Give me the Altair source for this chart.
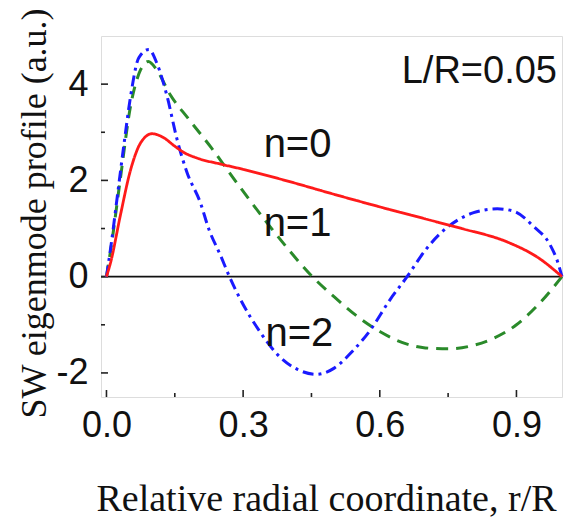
import altair as alt
import pandas as pd

# Spin-wave eigenmode profiles across the radius, L/R = 0.05
r_n0 = [0, 0.01, 0.03, 0.053, 0.075, 0.10, 0.125, 0.15, 0.17, 0.20, 0.25, 0.30,
        0.40, 0.50, 0.60, 0.70, 0.78, 0.88, 0.95, 1.0]
amp_n0 = [0, 0.33, 1.25, 2.22, 2.78, 2.97, 2.89, 2.71, 2.58, 2.46, 2.34, 2.23,
          1.98, 1.71, 1.45, 1.20, 1.00, 0.72, 0.38, 0]

r_n1 = [0, 0.01, 0.03, 0.053, 0.075, 0.092, 0.11, 0.14, 0.18, 0.23, 0.29, 0.35,
        0.40, 0.45, 0.50, 0.55, 0.60, 0.65, 0.70, 0.75, 0.80, 0.85, 0.90, 0.95, 1.0]
amp_n1 = [0, 0.60, 2.00, 3.55, 4.30, 4.47, 4.30, 3.78, 3.28, 2.68, 1.90, 1.15,
          0.56, 0.02, -0.42, -0.82, -1.14, -1.37, -1.48, -1.50, -1.44, -1.28, -1.00, -0.56, 0]

r_n2 = [0, 0.01, 0.024, 0.038, 0.053, 0.071, 0.093, 0.11, 0.133, 0.155, 0.177, 0.206,
        0.225, 0.25, 0.27, 0.294, 0.338, 0.382, 0.42, 0.46, 0.50, 0.54, 0.58, 0.623,
        0.66, 0.70, 0.733, 0.77, 0.806, 0.858, 0.894, 0.937, 0.975, 0.99, 1.0]
amp_n2 = [0, 0.65, 1.68, 2.72, 3.75, 4.55, 4.72, 4.45, 3.75, 2.85, 2.16, 1.54,
          0.98, 0.45, 0.0, -0.47, -1.16, -1.68, -1.93, -2.03, -1.90, -1.55, -1.10, -0.47,
          0.0, 0.55, 0.90, 1.17, 1.33, 1.41, 1.36, 1.05, 0.64, 0.32, 0]

# Axis ticks
x_major = [0.0, 0.3, 0.6, 0.9]
x_minor = [0.15, 0.45, 0.75]
y_major = [-2, 0, 2, 4]
y_minor = [-1, 1, 3]
zero_level = [0]

# Curve labels
label_text = ["n=0", "n=1", "n=2"]
label_r = [0.345, 0.345, 0.349]
label_amp = [2.49, 0.84, -1.44]
note_text = ["L/R=0.05"]
note_r = [0.989]
note_amp = [4.03]

W, H = 461, 361
xs = alt.Scale(domain=[-0.012, 1.0], nice=False, zero=False)
ys = alt.Scale(domain=[-2.5, 5.0], nice=False, zero=False)

SANS = "Liberation Sans"
SERIF = "Liberation Serif"

# Shared axes: labels and titles only, ticks are drawn as inward rules
x_axis = alt.Axis(
    values=x_major, format=".1f", ticks=False, domain=False, grid=False,
    labelFont=SANS, labelFontSize=36, labelColor="#111", labelPadding=11,
    labelFlush=False, labelOverlap=False,
    title="Relative radial coordinate, r/R", titleFont=SERIF, titleFontSize=38,
    titleFontWeight="normal", titleColor="#111", titleBaseline="alphabetic",
    titleX=225, titleY=113, titleAnchor="middle", titleAlign="center")
y_axis = alt.Axis(
    values=y_major, ticks=False, domain=False, grid=False,
    labelExpr="datum.value < 0 ? '-' + abs(datum.value) : '' + datum.value",
    labelFont=SANS, labelFontSize=36, labelColor="#111", labelPadding=13,
    labelFlush=False, labelOverlap=False,
    title="SW eigenmode profile (a.u.)", titleFont=SERIF, titleFontSize=36,
    titleFontWeight="normal", titleColor="#111", titleBaseline="alphabetic",
    titleAngle=270, titleX=-56, titleY=177, titleAnchor="middle", titleAlign="center")


def X(field="r"):
    return alt.X(f"{field}:Q", scale=xs, axis=x_axis)


def Y(field="a"):
    return alt.Y(f"{field}:Q", scale=ys, axis=y_axis)


def curve(r, a, color, dash, width):
    df = pd.DataFrame({"r": r, "a": a})
    return alt.Chart(df).mark_line(
        color=color, strokeWidth=width, strokeDash=dash, interpolate="monotone"
    ).encode(x=X(), y=Y())


zero_rule = alt.Chart(pd.DataFrame({"a": zero_level})).mark_rule(
    color="#111", strokeWidth=1.6
).encode(y=Y())

x_major_ticks = alt.Chart(pd.DataFrame({"r": x_major})).mark_rule(
    color="#222", strokeWidth=1.6
).encode(x=X(), y=alt.value(H), y2=alt.value(H - 7))
x_minor_ticks = alt.Chart(pd.DataFrame({"r": x_minor})).mark_rule(
    color="#222", strokeWidth=1.6
).encode(x=X(), y=alt.value(H), y2=alt.value(H - 4))
y_major_ticks = alt.Chart(pd.DataFrame({"a": y_major})).mark_rule(
    color="#222", strokeWidth=1.6
).encode(y=Y(), x=alt.value(0), x2=alt.value(7))
y_minor_ticks = alt.Chart(pd.DataFrame({"a": y_minor})).mark_rule(
    color="#222", strokeWidth=1.6
).encode(y=Y(), x=alt.value(0), x2=alt.value(4))

line_n1 = curve(r_n1, amp_n1, "#2a8a2a", [12, 8], 3)
line_n2 = curve(r_n2, amp_n2, "#1a1aff", [11, 5, 3, 5], 3)
line_n0 = curve(r_n0, amp_n0, "#ff1a1a", [1, 0], 2.8)

labels = alt.Chart(pd.DataFrame({"t": label_text, "r": label_r, "a": label_amp})).mark_text(
    font=SANS, fontSize=40, align="left", baseline="alphabetic", color="#111"
).encode(x=X(), y=Y(), text="t:N")

note = alt.Chart(pd.DataFrame({"t": note_text, "r": note_r, "a": note_amp})).mark_text(
    font=SANS, fontSize=38, align="right", baseline="alphabetic", color="#111"
).encode(x=X(), y=Y(), text="t:N")

chart = alt.layer(
    zero_rule, x_major_ticks, x_minor_ticks, y_major_ticks, y_minor_ticks,
    line_n1, line_n2, line_n0, labels, note,
).properties(
    width=W, height=H,
    autosize=alt.AutoSizeParams(type="none"),
    padding={"left": 101, "top": 36, "right": 3, "bottom": 126},
).configure_view(
    stroke="#222", strokeWidth=2
).configure(
    background="white"
)

chart.save("out.html", embed_options={"renderer": "svg", "actions": False})
